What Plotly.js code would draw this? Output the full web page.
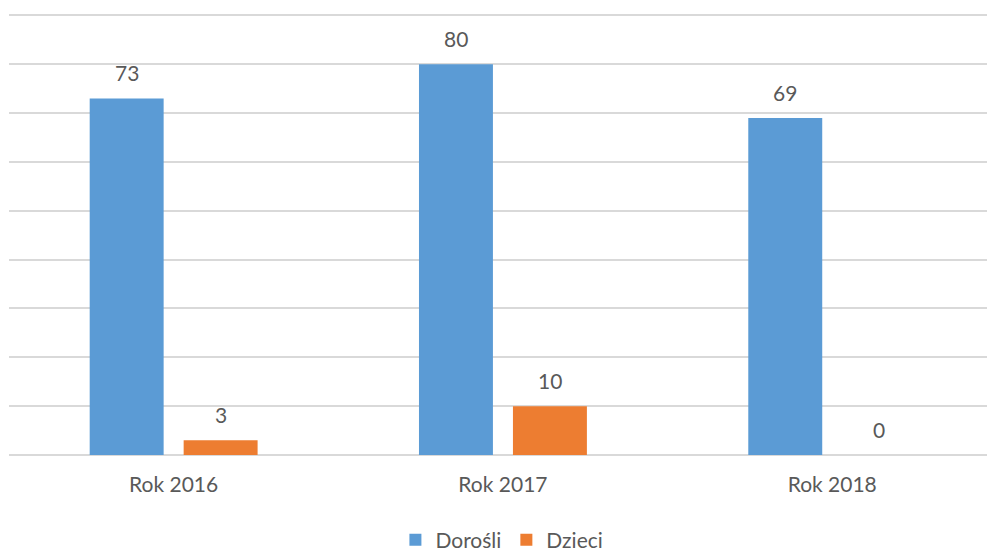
<!DOCTYPE html>
<html>
<head>
<meta charset="utf-8">
<script src="https://cdn.plot.ly/plotly-3.0.1.min.js"></script>
<style>html,body{margin:0;padding:0;background:#fff;}#chart{width:987px;height:551px;}</style>
</head>
<body>
<div id="chart"></div>
<script>
var categories = ['Rok 2016', 'Rok 2017', 'Rok 2018'];
var seriesNames = ['Dorośli', 'Dzieci'];
var dorosli = [73, 80, 69];
var dzieci = [3, 10, 0];

var colors = ['#5b9bd5', '#ed7d31'];
var textColor = '#595959';
var fontFam = 'Lato, "Open Sans", sans-serif';

var traces = [
  {type: 'bar', name: seriesNames[0], x: categories, y: dorosli, marker: {color: colors[0]}, hoverinfo: 'none'},
  {type: 'bar', name: seriesNames[1], x: categories, y: dzieci, marker: {color: colors[1]}, hoverinfo: 'none'}
];

var annotations = [];
var seriesVals = [dorosli, dzieci];
var shifts = [-47, 47];
seriesVals.forEach(function (vals, s) {
  vals.forEach(function (v, i) {
    annotations.push({
      x: categories[i], y: v, xref: 'x', yref: 'y',
      text: String(v), showarrow: false,
      xshift: shifts[s], yshift: 25.5,
      xanchor: 'center', yanchor: 'middle',
      font: {family: fontFam, size: 21, color: textColor}
    });
  });
});

var layout = {
  width: 987, height: 551,
  margin: {l: 9, r: 0, t: 13.5, b: 95.5},
  paper_bgcolor: '#ffffff', plot_bgcolor: '#ffffff',
  barmode: 'group',
  bargap: 0.4293,
  bargroupgap: 0.213,
  font: {family: fontFam, size: 21, color: textColor},
  xaxis: {
    type: 'category',
    range: [-0.5, 2.47],
    showgrid: false, zeroline: false, showline: false,
    ticks: '', ticklabelstandoff: 15,
    tickfont: {family: fontFam, size: 21, color: textColor}
  },
  yaxis: {
    range: [0, 90.3], dtick: 10, tick0: 0,
    showticklabels: false, ticks: '',
    showgrid: true, gridcolor: '#d9d9d9', gridwidth: 2,
    zeroline: true, zerolinecolor: '#d9d9d9', zerolinewidth: 2,
    showline: false
  },
  showlegend: true,
  legend: {
    orientation: 'h', xref: 'paper', x: 0.504, xanchor: 'center',
    yref: 'container', y: 0.02, yanchor: 'middle',
    font: {family: fontFam, size: 21, color: textColor},
    itemclick: false
  },
  annotations: annotations
};

Plotly.newPlot('chart', traces, layout, {displayModeBar: false, staticPlot: true});
</script>
</body>
</html>
